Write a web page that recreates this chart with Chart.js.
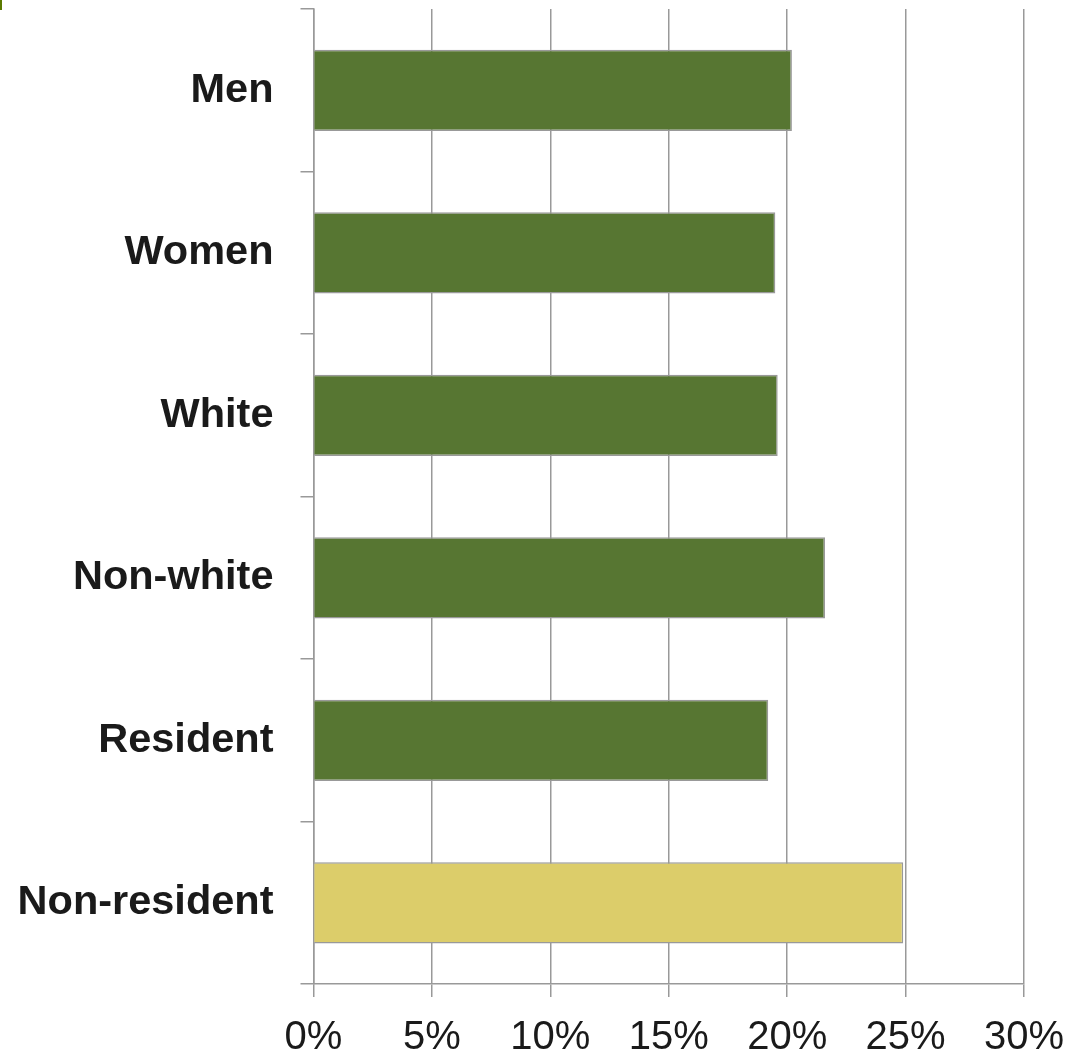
<!DOCTYPE html>
<html>
<head>
<meta charset="utf-8">
<script src="https://cdn.jsdelivr.net/npm/chart.js@4/dist/chart.umd.min.js"></script>
<style>
  html, body { margin: 0; padding: 0; background: #ffffff; }
  canvas { display: block; }
</style>
</head>
<body>
<canvas id="c" width="1081" height="1054"></canvas>
<script>
const categories = ["Men", "Women", "White", "Non-white", "Resident", "Non-resident"];
const values = [20.2, 19.5, 19.6, 21.6, 19.2, 24.9];
const barColors = ["#577632", "#577632", "#577632", "#577632", "#577632", "#DCCD6A"];
const xTicks = [0, 5, 10, 15, 20, 25, 30];

const gridGray = "#999999";

const cornerMark = {
  id: "cornerMark",
  afterDraw(chart) {
    const ctx = chart.ctx;
    ctx.save();
    ctx.fillStyle = "#5b7a00";
    ctx.fillRect(0, 0, 2, 10);
    ctx.restore();
  }
};

new Chart(document.getElementById("c"), {
  type: "bar",
  data: {
    labels: categories,
    datasets: [{
      data: values,
      backgroundColor: barColors,
      borderColor: "#999999",
      borderWidth: 1.5,
      barPercentage: 0.5,
      categoryPercentage: 1.0
    }]
  },
  plugins: [cornerMark],
  options: {
    indexAxis: "y",
    responsive: false,
    animation: false,
    devicePixelRatio: 1,
    layout: { padding: { top: 9, right: 57, bottom: 0, left: 0 } },
    plugins: { legend: { display: false }, tooltip: { enabled: false } },
    scales: {
      x: {
        type: "linear",
        min: 0,
        max: 30,
        afterBuildTicks(scale) { scale.ticks = xTicks.map(v => ({ value: v })); },
        afterFit(scale) { scale.height = 70; scale.paddingLeft = 0; scale.paddingRight = 0; },
        grid: {
          color: gridGray,
          lineWidth: 1.5,
          drawOnChartArea: true,
          drawTicks: true,
          tickLength: 13
        },
        border: { display: true, color: gridGray, width: 1.5 },
        ticks: {
          padding: 17,
          color: "#1a1a1a",
          font: { family: "'Liberation Sans', Arial, sans-serif", size: 40 },
          callback: v => v + "%",
          maxRotation: 0,
          autoSkip: false
        }
      },
      y: {
        type: "category",
        afterFit(scale) { scale.width = 313.5; scale.paddingTop = 0; scale.paddingBottom = 0; },
        grid: {
          offset: true,
          color: gridGray,
          lineWidth: 1.5,
          drawOnChartArea: false,
          drawTicks: true,
          tickLength: 13
        },
        border: { display: true, color: gridGray, width: 1.5 },
        ticks: {
          padding: 27,
          color: "#1a1a1a",
          font: { family: "'Liberation Sans', Arial, sans-serif", size: 41.5, weight: "bold" },
          autoSkip: false
        }
      }
    }
  }
});
</script>
</body>
</html>
